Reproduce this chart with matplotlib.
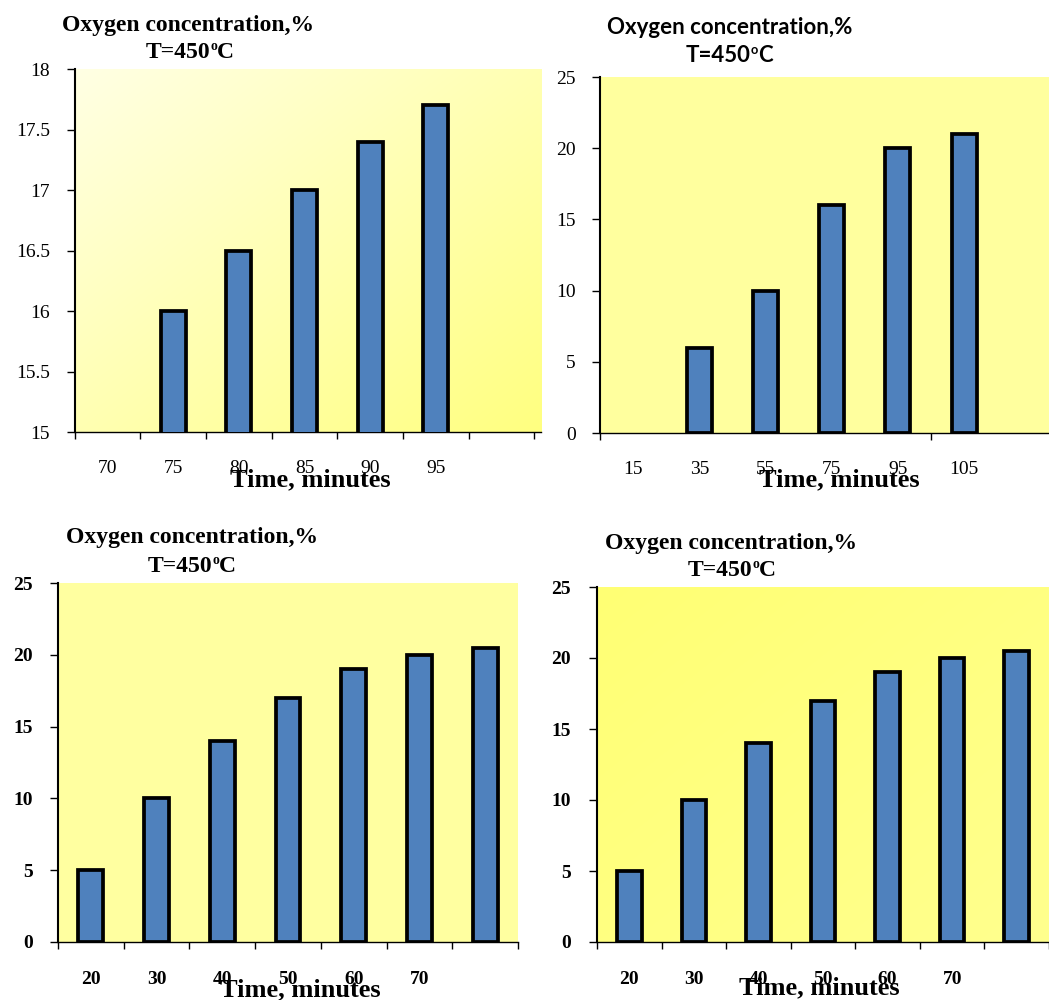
import numpy as np
import matplotlib
matplotlib.use("Agg")
import matplotlib.pyplot as plt

# ---- data -------------------------------------------------------------
p1_times = ["70", "75", "80", "85", "90", "95"]
p1_oxygen = [np.nan, 16.0, 16.5, 17.0, 17.4, 17.7]
p1_yticks = [15, 15.5, 16, 16.5, 17, 17.5, 18]

p2_times = ["15", "35", "55", "75", "95", "105"]
p2_oxygen = [np.nan, 6, 10, 16, 20, 21]
p2_yticks = [0, 5, 10, 15, 20, 25]

p3_times = ["20", "30", "40", "50", "60", "70", ""]
p3_oxygen = [5, 10, 14, 17, 19, 20, 20.5]
p3_yticks = [0, 5, 10, 15, 20, 25]

p4_times = ["20", "30", "40", "50", "60", "70", ""]
p4_oxygen = [5, 10, 14, 17, 19, 20, 20.5]
p4_yticks = [0, 5, 10, 15, 20, 25]

title_line1 = "Oxygen concentration,%"
temp_parts = ("T=450", "o", "C")
x_title = "Time, minutes"

# ---- layout helpers (pixel based) -------------------------------------
W, H = 1049, 1000
fig = plt.figure(figsize=(W / 100, H / 100), dpi=100)
fig.patch.set_facecolor("white")
renderer = fig.canvas.get_renderer()

SERIF = "Liberation Serif"
SANS = "Lato"
BAR = "#4F81BD"


def axes_px(left, top, right, bottom):
    return fig.add_axes([left / W, 1 - bottom / H, (right - left) / W, (bottom - top) / H])


def gradient(ax, c0, c1):
    c0 = np.array(matplotlib.colors.to_rgb(c0))
    c1 = np.array(matplotlib.colors.to_rgb(c1))
    u = np.linspace(0, 1, 200)
    t = (u[None, :] + u[:, None]) / 2.0
    img = c0[None, None, :] * (1 - t[..., None]) + c1[None, None, :] * t[..., None]
    ax.imshow(img, extent=(0, 1, 0, 1), transform=ax.transAxes,
              aspect="auto", origin="upper", zorder=0, interpolation="bilinear")


def panel(ax, labels, values, yticks, ylim, xmax, xticks_major,
          tick_weight, bg=None, grad=None, ypad=11.5, xpad=20):
    n = len(labels)
    x = np.arange(n)
    if grad is not None:
        gradient(ax, *grad)
        ax.set_facecolor("none")
    else:
        ax.set_facecolor(bg)
    ax.bar(x, values, width=0.38, color=BAR, edgecolor="black",
           linewidth=2.7, zorder=3)
    ax.set_xlim(-0.5, xmax)
    ax.set_ylim(*ylim)
    ax.set_autoscale_on(False)
    for s in ("top", "right"):
        ax.spines[s].set_visible(False)
    ax.spines["left"].set_linewidth(1.5)
    ax.spines["bottom"].set_linewidth(1.0)
    ax.set_yticks(yticks, labels=[f"{v:g}" for v in yticks])
    ax.set_xticks(xticks_major, labels=[""] * len(xticks_major))
    ax.set_xticks(x, labels=labels, minor=True)
    ax.tick_params(axis="y", direction="out", length=6, width=1, pad=ypad,
                   labelsize=14, labelfontfamily=SERIF)
    ax.tick_params(axis="x", which="major", direction="out", length=5, width=1)
    ax.tick_params(axis="x", which="minor", length=0, pad=xpad,
                   labelsize=14, labelfontfamily=SERIF)
    for lab in ax.get_yticklabels() + ax.get_xticklabels(minor=True):
        lab.set_fontweight(tick_weight)


def titles(cx1, cy1, cx2, base2, family, size):
    fig.text(cx1 / W, 1 - cy1 / H, title_line1, ha="center", va="center",
             family=family, weight="bold", size=size)
    # temperature line with a small raised "o"
    main_a, sup, main_b = temp_parts
    kw = dict(family=family, weight="bold", va="baseline", ha="left")
    ta = fig.text(0, 0, main_a, size=size, **kw)
    ts = fig.text(0, 0, sup, size=size * 0.58, **kw)
    tb = fig.text(0, 0, main_b, size=size, **kw)
    wa = ta.get_window_extent(renderer).width
    ws = ts.get_window_extent(renderer).width
    wb = tb.get_window_extent(renderer).width
    left = cx2 - (wa + ws + wb) / 2.0
    ta.set_position((left / W, 1 - base2 / H))
    ts.set_position(((left + wa) / W, 1 - (base2 - size * 0.47) / H))
    tb.set_position(((left + wa + ws) / W, 1 - base2 / H))


def xlabel(cx, cy):
    fig.text(cx / W, 1 - cy / H, x_title, ha="center", va="center",
             family=SERIF, weight="bold", size=19)


# ---- panel 1 (top left) ------------------------------------------------
ax1 = axes_px(74.5, 69, 541, 432)
panel(ax1, p1_times, p1_oxygen, p1_yticks, (15, 18), 6.6,
      np.arange(-0.5, 7, 1.0), "normal",
      grad=("#FFFFE4", "#FFFF80"))
titles(188, 25, 190, 58, SERIF, 17)
xlabel(310, 480)

# ---- panel 2 (top right) -----------------------------------------------
ax2 = axes_px(600, 77, 1049, 433)
panel(ax2, p2_times, p2_oxygen, p2_yticks, (0, 25), -0.5 + (1049 - 600) / 66.2,
      [-0.5, 4.5], "normal", bg="#FFFF9E")
titles(729.5, 27, 729, 62, SANS, 16)
xlabel(839, 480)

# ---- panel 3 (bottom left) ---------------------------------------------
ax3 = axes_px(58, 583, 518, 942)
panel(ax3, p3_times, p3_oxygen, p3_yticks, (0, 25), 6.5,
      np.arange(-0.5, 7, 1.0), "bold", bg="#FFFFA0", ypad=12, xpad=21)
titles(192, 538, 192, 572, SERIF, 17)
xlabel(300, 990)

# ---- panel 4 (bottom right) --------------------------------------------
ax4 = axes_px(597, 587, 1049, 942)
panel(ax4, p4_times, p4_oxygen, p4_yticks, (0, 25), -0.5 + (1049 - 597) / 66.2,
      np.arange(-0.5, 6.6, 1.0), "bold",
      grad=("#FFFF74", "#FFFF8E"), ypad=13, xpad=21)
titles(731, 543, 732, 576, SERIF, 17)
xlabel(819, 988)

fig.savefig("out.png", dpi=100)
